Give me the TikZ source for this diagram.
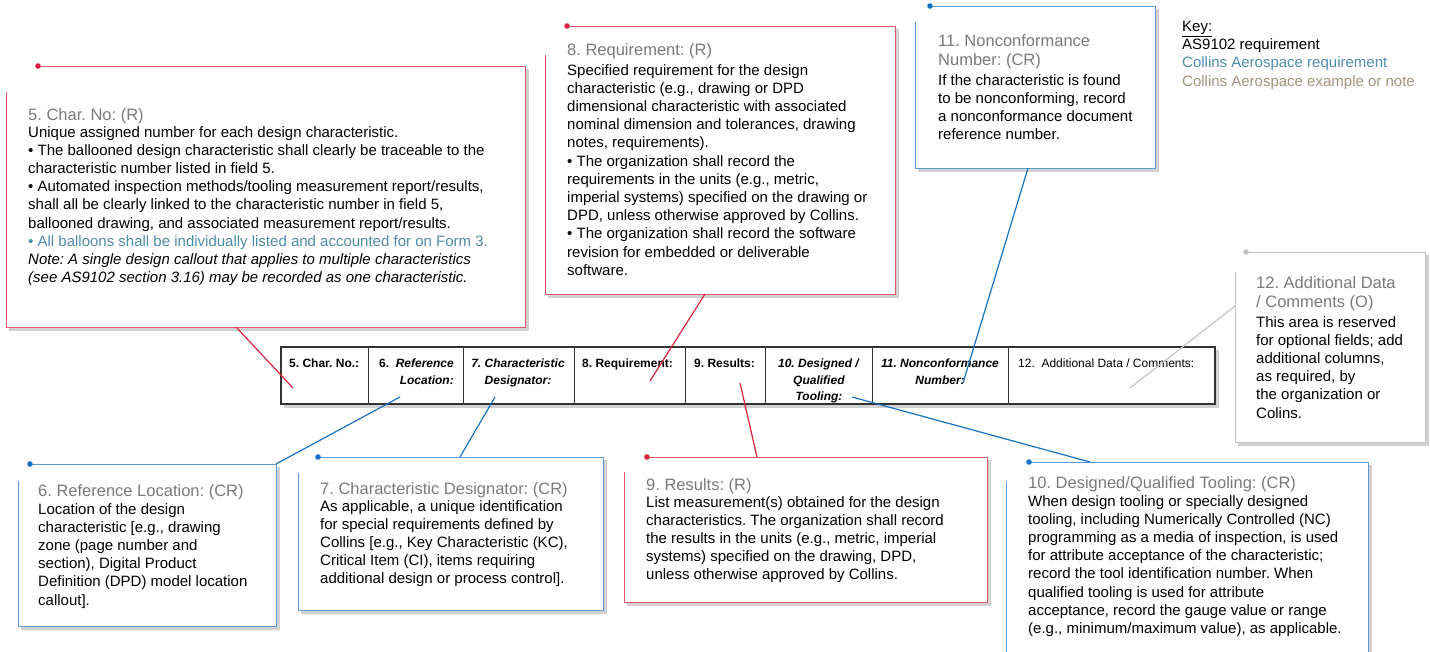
\documentclass[tikz,border=0pt]{standalone}
\usepackage{fontspec}
\setmainfont{Liberation Sans}
\usetikzlibrary{positioning}
\definecolor{cred}{RGB}{218,35,60}
\definecolor{credbox}{RGB}{226,88,104}
\definecolor{cblue}{RGB}{22,112,196}
\definecolor{cbluebox}{RGB}{92,156,214}
\definecolor{cgray}{RGB}{195,195,195}
\definecolor{ctitle}{RGB}{122,122,122}
\definecolor{ckeyblue}{RGB}{78,140,172}
\definecolor{ckeytan}{RGB}{166,146,122}
\frenchspacing

\begin{document}
\begin{tikzpicture}[x=1pt,y=-1pt,
  ttl/.style={anchor=north west, inner sep=0pt, align=left, text=ctitle, font=\fontsize{16.5}{19.5}\selectfont},
  txt/.style={anchor=north west, inner sep=0pt, align=left, font=\fontsize{15}{18.2}\selectfont},
  hdr/.style={inner sep=0pt, font=\fontsize{12}{16.5}\selectfont\bfseries},
  boxshadow/.style={draw=black!18, line width=3pt, line cap=rect},
  redbox/.style={draw=credbox, line width=1pt},
  bluebox/.style={draw=cbluebox, line width=1pt},
  graybox/.style={draw=cgray, line width=1pt},
  redline/.style={draw=cred, line width=1.2pt},
  blueline/.style={draw=cblue, line width=1.2pt},
  grayline/.style={draw=cgray, line width=1.2pt}]
\useasboundingbox (0,0) rectangle (1430,651);

% the form row
\draw[boxshadow] (1217,351) -- (1217,406) -- (285,406);
\draw[fill=white, draw=black!80, line width=1.4pt] (281,347) rectangle (1215,404);
\draw[line width=1pt, black!80] (368,347) -- (368,404) (463,347) -- (463,404) (574,347) -- (574,404)
  (685,347) -- (685,404) (765,347) -- (765,404) (872,347) -- (872,404) (1008,347) -- (1008,404);
\node[hdr, anchor=north west] (h5) at (289,359) {5. Char. No.:};
\node[hdr, anchor=north east, align=right] (h6) at (454,359) {6.\ \ \textit{Reference}\\\textit{Location:}};
\node[hdr, anchor=north, align=center] (h7) at (518,359) {\textit{7. Characteristic}\\\textit{Designator:}};
\node[hdr, anchor=north west] (h8) at (582,359) {8. Requirement:};
\node[hdr, anchor=north west] (h9) at (694,359) {9. Results:};
\node[hdr, anchor=north, align=center] (h10) at (819,359) {\textit{10. Designed /}\\\textit{Qualified}\\\textit{Tooling:}};
\node[hdr, anchor=north, align=center] (h11) at (940,359) {\textit{11. Nonconformance}\\\textit{Number:}};
\node[hdr, anchor=north west, font=\fontsize{12}{16.5}\selectfont] (h12) at (1018,359) {12.\ \ Additional Data / Comments:};

% key
\node[txt] (key) at (1182,21) {\underline{Key:}\\AS9102 requirement\\\textcolor{ckeyblue}{Collins Aerospace requirement}\\\textcolor{ckeytan}{Collins Aerospace example or note}};

% 5. Char. No
\draw[boxshadow] (527,70) -- (527,329) -- (10,329);
\fill[white] (38,66) -- (525,66) -- (525,327) -- (6,327) -- (6,92) -- cycle;
\draw[redbox] (38,66) -- (525,66) -- (525,327) -- (6,327) -- (6,92);
\fill[cred] (38,66) circle (2.8);
\node[ttl] (t5) at (28,108) {5. Char. No: (R)};
\node[txt] (b5) at (28,126) {Unique assigned number for each design characteristic.\\
• The ballooned design characteristic shall clearly be traceable to the\\
characteristic number listed in field 5.\\
• Automated inspection methods/tooling measurement report/results,\\
shall all be clearly linked to the characteristic number in field 5,\\
ballooned drawing, and associated measurement report/results.\\
\textcolor{ckeyblue}{• All balloons shall be individually listed and accounted for on Form 3.}\\
\textit{Note: A single design callout that applies to multiple characteristics}\\
\textit{(see AS9102 section 3.16) may be recorded as one characteristic.}};

% 8. Requirement
\draw[boxshadow] (897,30) -- (897,296) -- (549,296);
\fill[white] (567,26) -- (895,26) -- (895,294) -- (545,294) -- (545,55) -- cycle;
\draw[redbox] (567,26) -- (895,26) -- (895,294) -- (545,294) -- (545,55);
\fill[cred] (567,26) circle (2.8);
\node[ttl] (t8) at (567,43) {8. Requirement: (R)};
\node[txt] (b8) at (567,64) {Specified requirement for the design\\
characteristic (e.g., drawing or DPD\\
dimensional characteristic with associated\\
nominal dimension and tolerances, drawing\\
notes, requirements).\\
• The organization shall record the\\
requirements in the units (e.g., metric,\\
imperial systems) specified on the drawing or\\
DPD, unless otherwise approved by Collins.\\
• The organization shall record the software\\
revision for embedded or deliverable\\
software.};

% 11. Nonconformance
\draw[boxshadow] (1157,10) -- (1157,170) -- (919,170);
\fill[white] (930,6) -- (1155,6) -- (1155,168) -- (915,168) -- (915,22) -- cycle;
\draw[bluebox] (930,6) -- (1155,6) -- (1155,168) -- (915,168) -- (915,22);
\fill[cblue] (930,6) circle (2.8);
\node[ttl] (t11) at (938,34) {11. Nonconformance\\Number: (CR)};
\node[txt] (b11) at (938,74) {If the characteristic is found\\
to be nonconforming, record\\
a nonconformance document\\
reference number.};

% 12. Additional data
\draw[boxshadow] (1427,256) -- (1427,444) -- (1239,444);
\fill[white] (1246,252) -- (1425,252) -- (1425,442) -- (1235,442) -- (1235,272) -- cycle;
\draw[graybox] (1246,252) -- (1425,252) -- (1425,442) -- (1235,442) -- (1235,272);
\fill[cgray] (1246,252) circle (2.8);
\node[ttl] (t12) at (1256,276) {12. Additional Data\\/ Comments (O)};
\node[txt] (b12) at (1256,316) {This area is reserved\\
for optional fields; add\\
additional columns,\\
as required, by\\
the organization or\\
Colins.};

% 6. Reference location
\draw[boxshadow] (278,468) -- (278,628) -- (22,628);
\fill[white] (30,464) -- (276,464) -- (276,626) -- (18,626) -- (18,481) -- cycle;
\draw[bluebox] (30,464) -- (276,464) -- (276,626) -- (18,626) -- (18,481);
\fill[cblue] (30,464) circle (2.8);
\node[ttl] (t6) at (38,484) {6. Reference Location: (CR)};
\node[txt] (b6) at (38,503) {Location of the design\\
characteristic [e.g., drawing\\
zone (page number and\\
section), Digital Product\\
Definition (DPD) model location\\
callout].};

% 7. Characteristic designator
\draw[boxshadow] (605,461) -- (605,612) -- (302,612);
\fill[white] (318,457) -- (603,457) -- (603,610) -- (298,610) -- (298,473) -- cycle;
\draw[bluebox] (318,457) -- (603,457) -- (603,610) -- (298,610) -- (298,473);
\fill[cblue] (318,457) circle (2.8);
\node[ttl] (t7) at (320,482) {7. Characteristic Designator: (CR)};
\node[txt] (b7) at (320,500) {As applicable, a unique identification\\
for special requirements defined by\\
Collins [e.g., Key Characteristic (KC),\\
Critical Item (CI), items requiring\\
additional design or process control].};

% 9. Results
\draw[boxshadow] (989,461) -- (989,604) -- (628,604);
\fill[white] (647,457) -- (987,457) -- (987,602) -- (624,602) -- (624,472) -- cycle;
\draw[redbox] (647,457) -- (987,457) -- (987,602) -- (624,602) -- (624,472);
\fill[cred] (647,457) circle (2.8);
\node[ttl] (t9) at (646,478) {9. Results: (R)};
\node[txt] (b9) at (646,496) {List measurement(s) obtained for the design\\
characteristics. The organization shall record\\
the results in the units (e.g., metric, imperial\\
systems) specified on the drawing, DPD,\\
unless otherwise approved by Collins.};

% 10. Designed / qualified tooling
\draw[boxshadow] (1370,466) -- (1370,665);
\fill[white] (1029,462) -- (1368,462) -- (1368,665) -- (1006,665) -- (1006,481) -- cycle;
\draw[bluebox] (1029,462) -- (1368,462) -- (1368,665) -- (1006,665) -- (1006,481);
\fill[cblue] (1029,462) circle (2.8);
\node[ttl] (t10) at (1028,476) {10. Designed/Qualified Tooling: (CR)};
\node[txt] (b10) at (1028,495) {When design tooling or specially designed\\
tooling, including Numerically Controlled (NC)\\
programming as a media of inspection, is used\\
for attribute acceptance of the characteristic;\\
record the tool identification number. When\\
qualified tooling is used for attribute\\
acceptance, record the gauge value or range\\
(e.g., minimum/maximum value), as applicable.};

% leaders from the form cells to the callouts
\coordinate (p5) at (293,388);  \coordinate (e5) at (236,327);
\coordinate (p6) at (400,397);  \coordinate (e6) at (276,464);
\coordinate (p7) at (495,397);  \coordinate (e7) at (460,457);
\coordinate (p8) at (650,381);  \coordinate (e8) at (705,294);
\coordinate (p9) at (740,383);  \coordinate (e9) at (757,457);
\coordinate (p10) at (852,397); \coordinate (e10) at (1090,462);
\coordinate (p11) at (963,383); \coordinate (e11) at (1028,168);
\coordinate (p12) at (1130,388); \coordinate (e12) at (1235,306);
\draw[redline] (p5) -- (e5);
\draw[blueline] (p6) -- (e6);
\draw[blueline] (p7) -- (e7);
\draw[redline] (p8) -- (e8);
\draw[redline] (p9) -- (e9);
\draw[blueline] (p10) -- (e10);
\draw[blueline] (p11) -- (e11);
\draw[grayline] (p12) -- (e12);
\end{tikzpicture}
\end{document}
